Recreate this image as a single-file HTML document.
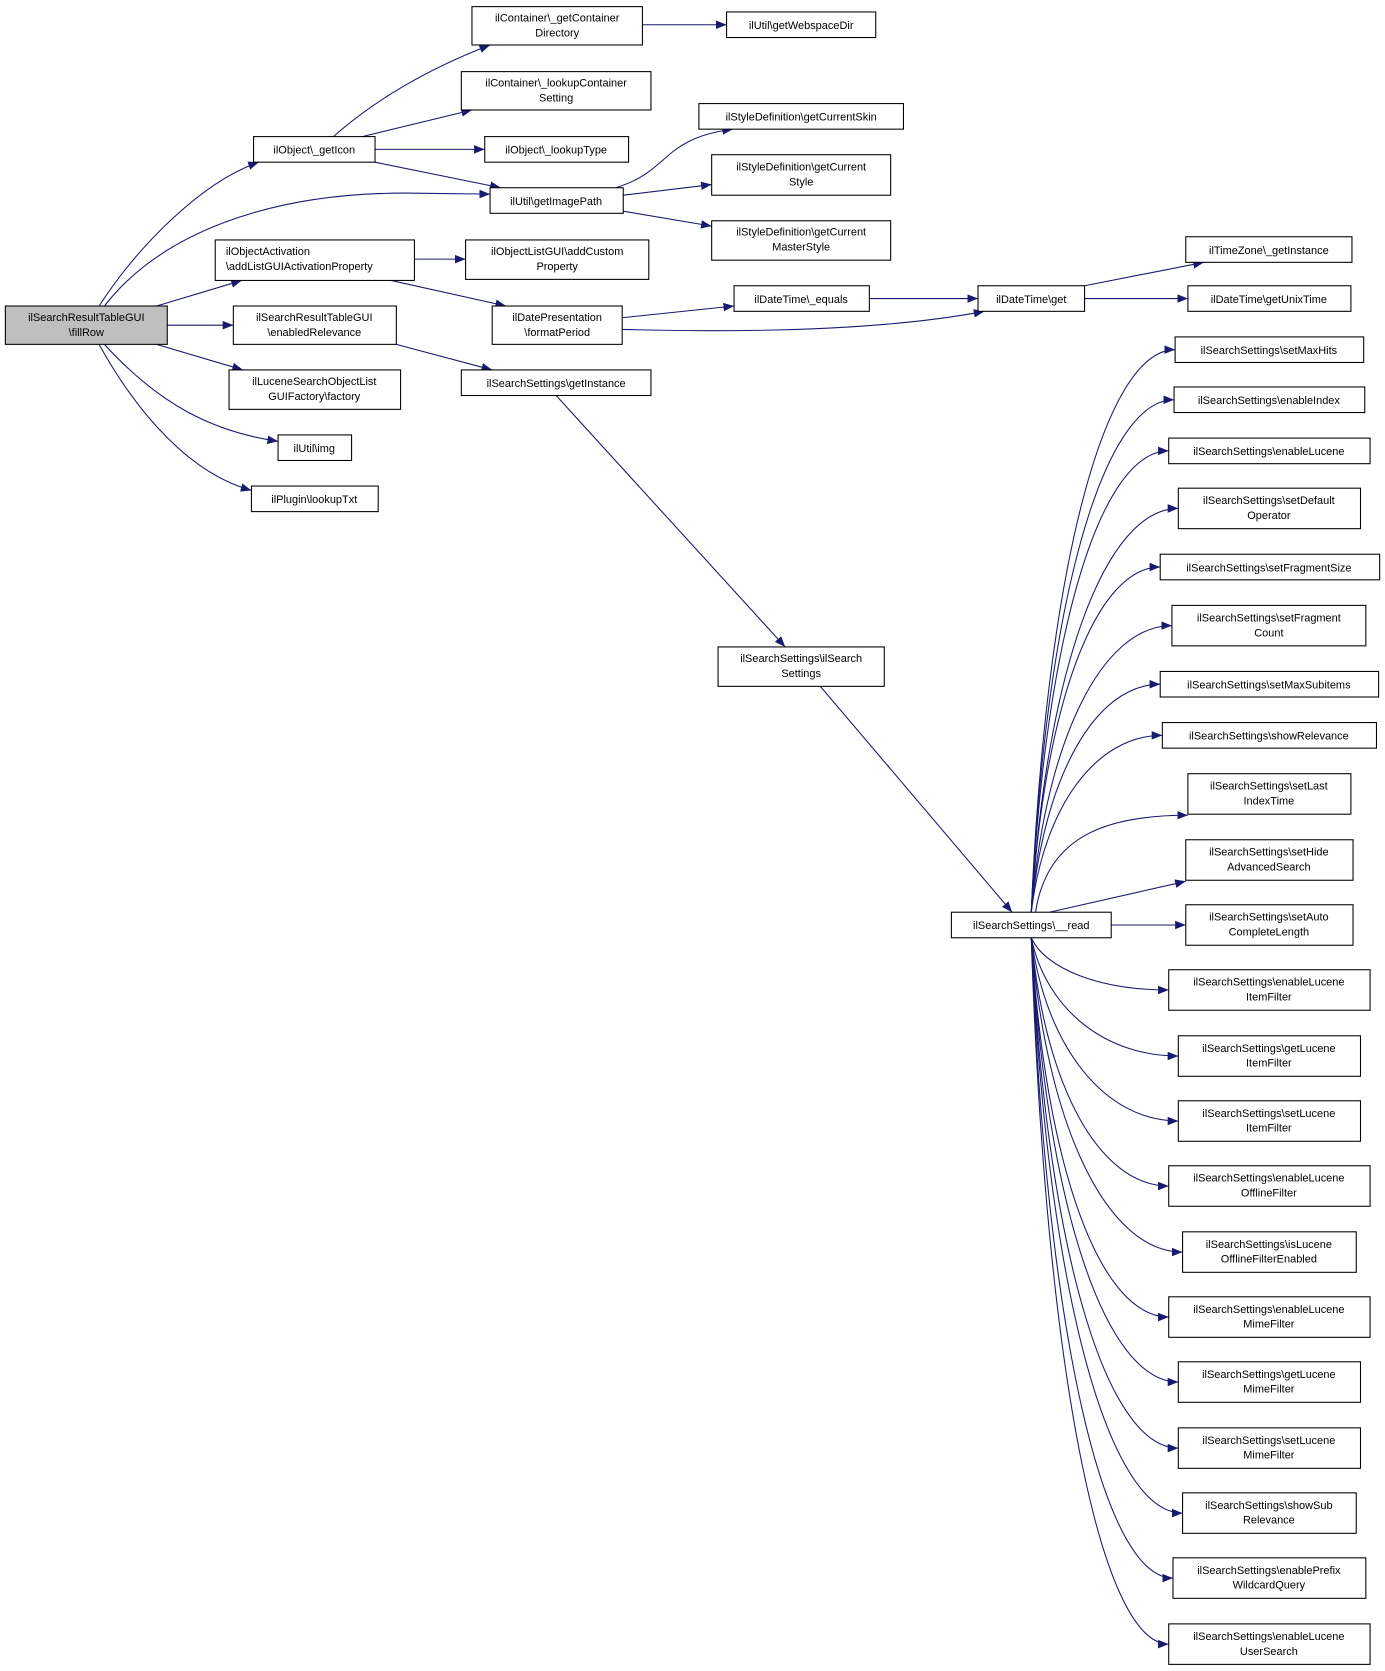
<!DOCTYPE html>
<html><head><meta charset="utf-8"><style>
html,body{margin:0;padding:0;background:#fff}
svg{display:block}
text{font-family:"Liberation Sans",Arial,sans-serif;font-size:10.3px;fill:#000}
.b{fill:#fff;stroke:#000;stroke-width:1}
.e{fill:none;stroke:#191970;stroke-width:1}
</style></head><body>
<svg width="1385" height="1671" viewBox="0 0 1300 1568" xmlns="http://www.w3.org/2000/svg">
<defs><marker id="a" markerUnits="userSpaceOnUse" markerWidth="11" markerHeight="9" refX="10" refY="4" orient="auto"><path d="M0,0 L10,4 L0,8 Z" fill="#191970"/></marker></defs>
<g class="e" marker-end="url(#a)">
<path d="M93 287 C130 230 190 170 243 152"/>
<path d="M98 287 C150 220 250 181 380 181 L460 182"/>
<path d="M147 287 L227 263"/>
<path d="M157 305 L219 305"/>
<path d="M147 323 L228 347"/>
<path d="M98 323 C150 380 200 405 261 414"/>
<path d="M93 323 C130 390 180 445 236 460"/>
<path d="M313 128 C350 95 400 65 460 42"/>
<path d="M340 128 L443 103"/>
<path d="M352 140 L455 140"/>
<path d="M352 152 L470 176"/>
<path d="M603 23 L682 23"/>
<path d="M578 176 C630 160 620 130 688 121"/>
<path d="M585 183 L668 173"/>
<path d="M585 198 L668 212"/>
<path d="M389 243 L437 243"/>
<path d="M367 263 L475 287"/>
<path d="M372 323 L462 347"/>
<path d="M584 298 L689 287"/>
<path d="M584 309 C700 312 830 310 924 292"/>
<path d="M816 280 L918 280"/>
<path d="M1018 268 L1130 246"/>
<path d="M1018 280 L1115 280"/>
<path d="M522 371 L737 607"/>
<path d="M770 644 L950 856"/>
<path d="M968 856 C981.5 539 1035.5 328 1103 328"/>
<path d="M968 856 C981 567 1035 375 1102 375"/>
<path d="M968 856 C981 596 1032 423 1097 423"/>
<path d="M968 856 C982 629 1037 477 1106 477"/>
<path d="M968 856 C980 662 1028 532 1089 532"/>
<path d="M968 856 C981 695 1034 587 1100 587"/>
<path d="M968 856 C980 728 1028 642 1089 642"/>
<path d="M968 856 C980 756 1029 690 1091 690"/>
<path d="M972 856 C983 783 1041 765 1115 765"/>
<path d="M985 856 L1113 827"/>
<path d="M1043 868 L1113 868"/>
<path d="M968 880 C981 909 1032 929 1097 929"/>
<path d="M968 880 C982 947 1037 991 1106 991"/>
<path d="M968 880 C982 983 1037 1052 1106 1052"/>
<path d="M968 880 C981 1020 1032 1113 1097 1113"/>
<path d="M968 880 C982 1057 1039 1175 1110 1175"/>
<path d="M968 880 C981 1094 1032 1236 1097 1236"/>
<path d="M968 880 C982 1130 1037 1297 1106 1297"/>
<path d="M968 880 C982 1167 1037 1359 1106 1359"/>
<path d="M968 880 C982 1204 1039 1420 1110 1420"/>
<path d="M968 880 C981 1241 1034 1481 1101 1481"/>
<path d="M968 880 C981 1278 1032 1543 1097 1543"/>
</g>
<g text-anchor="middle">
<rect x="5" y="287" width="152" height="36" fill="#bfbfbf" stroke="#000"/><text x="81" y="301">ilSearchResultTableGUI</text><text x="81" y="315">\fillRow</text>
<rect class="b" x="238" y="128" width="114" height="24"/><text x="295" y="144">ilObject\_getIcon</text>
<rect class="b" x="443" y="6" width="160" height="36"/><text x="523" y="20">ilContainer\_getContainer</text><text x="523" y="34">Directory</text>
<rect class="b" x="433" y="67" width="178" height="36"/><text x="522" y="81">ilContainer\_lookupContainer</text><text x="522" y="95">Setting</text>
<rect class="b" x="455" y="128" width="135" height="24"/><text x="522" y="144">ilObject\_lookupType</text>
<rect class="b" x="460" y="176" width="125" height="24"/><text x="522" y="192">ilUtil\getImagePath</text>
<rect class="b" x="682" y="11" width="140" height="24"/><text x="752" y="27">ilUtil\getWebspaceDir</text>
<rect class="b" x="656" y="97" width="192" height="24"/><text x="752" y="113">ilStyleDefinition\getCurrentSkin</text>
<rect class="b" x="668" y="145" width="168" height="38"/><text x="752" y="160">ilStyleDefinition\getCurrent</text><text x="752" y="174">Style</text>
<rect class="b" x="668" y="207" width="168" height="37"/><text x="752" y="221">ilStyleDefinition\getCurrent</text><text x="752" y="235">MasterStyle</text>
<rect class="b" x="202" y="225" width="187" height="38"/><text x="212" y="239" text-anchor="start">ilObjectActivation</text><text x="212" y="253" text-anchor="start">\addListGUIActivationProperty</text>
<rect class="b" x="437" y="225" width="172" height="37"/><text x="523" y="239">ilObjectListGUI\addCustom</text><text x="523" y="253">Property</text>
<rect class="b" x="462" y="287" width="122" height="36"/><text x="523" y="301">ilDatePresentation</text><text x="523" y="315">\formatPeriod</text>
<rect class="b" x="219" y="287" width="153" height="36"/><text x="295" y="301">ilSearchResultTableGUI</text><text x="295" y="315">\enabledRelevance</text>
<rect class="b" x="215" y="347" width="161" height="37"/><text x="295" y="361">ilLuceneSearchObjectList</text><text x="295" y="375">GUIFactory\factory</text>
<rect class="b" x="261" y="408" width="69" height="24"/><text x="295" y="424">ilUtil\img</text>
<rect class="b" x="236" y="456" width="119" height="24"/><text x="295" y="472">ilPlugin\lookupTxt</text>
<rect class="b" x="433" y="347" width="178" height="24"/><text x="522" y="363">ilSearchSettings\getInstance</text>
<rect class="b" x="689" y="268" width="127" height="24"/><text x="752" y="284">ilDateTime\_equals</text>
<rect class="b" x="918" y="268" width="100" height="24"/><text x="968" y="284">ilDateTime\get</text>
<rect class="b" x="1113" y="222" width="156" height="24"/><text x="1191" y="238">ilTimeZone\_getInstance</text>
<rect class="b" x="1115" y="268" width="153" height="24"/><text x="1191" y="284">ilDateTime\getUnixTime</text>
<rect class="b" x="674" y="607" width="156" height="37"/><text x="752" y="621">ilSearchSettings\ilSearch</text><text x="752" y="635">Settings</text>
<rect class="b" x="893" y="856" width="150" height="24"/><text x="968" y="872">ilSearchSettings\__read</text>
<rect class="b" x="1103" y="316" width="177" height="24"/><text x="1191" y="332">ilSearchSettings\setMaxHits</text>
<rect class="b" x="1102" y="363" width="179" height="24"/><text x="1191" y="379">ilSearchSettings\enableIndex</text>
<rect class="b" x="1097" y="411" width="189" height="24"/><text x="1191" y="427">ilSearchSettings\enableLucene</text>
<rect class="b" x="1106" y="458" width="171" height="38"/><text x="1191" y="473">ilSearchSettings\setDefault</text><text x="1191" y="487">Operator</text>
<rect class="b" x="1089" y="520" width="206" height="24"/><text x="1191" y="536">ilSearchSettings\setFragmentSize</text>
<rect class="b" x="1100" y="568" width="182" height="38"/><text x="1191" y="583">ilSearchSettings\setFragment</text><text x="1191" y="597">Count</text>
<rect class="b" x="1089" y="630" width="205" height="24"/><text x="1191" y="646">ilSearchSettings\setMaxSubitems</text>
<rect class="b" x="1091" y="678" width="201" height="24"/><text x="1191" y="694">ilSearchSettings\showRelevance</text>
<rect class="b" x="1115" y="726" width="153" height="38"/><text x="1191" y="741">ilSearchSettings\setLast</text><text x="1191" y="755">IndexTime</text>
<rect class="b" x="1113" y="788" width="157" height="38"/><text x="1191" y="803">ilSearchSettings\setHide</text><text x="1191" y="817">AdvancedSearch</text>
<rect class="b" x="1113" y="849" width="157" height="38"/><text x="1191" y="864">ilSearchSettings\setAuto</text><text x="1191" y="878">CompleteLength</text>
<rect class="b" x="1097" y="910" width="189" height="38"/><text x="1191" y="925">ilSearchSettings\enableLucene</text><text x="1191" y="939">ItemFilter</text>
<rect class="b" x="1106" y="972" width="171" height="38"/><text x="1191" y="987">ilSearchSettings\getLucene</text><text x="1191" y="1001">ItemFilter</text>
<rect class="b" x="1106" y="1033" width="171" height="38"/><text x="1191" y="1048">ilSearchSettings\setLucene</text><text x="1191" y="1062">ItemFilter</text>
<rect class="b" x="1097" y="1094" width="189" height="38"/><text x="1191" y="1109">ilSearchSettings\enableLucene</text><text x="1191" y="1123">OfflineFilter</text>
<rect class="b" x="1110" y="1156" width="163" height="38"/><text x="1191" y="1171">ilSearchSettings\isLucene</text><text x="1191" y="1185">OfflineFilterEnabled</text>
<rect class="b" x="1097" y="1217" width="189" height="38"/><text x="1191" y="1232">ilSearchSettings\enableLucene</text><text x="1191" y="1246">MimeFilter</text>
<rect class="b" x="1106" y="1278" width="171" height="38"/><text x="1191" y="1293">ilSearchSettings\getLucene</text><text x="1191" y="1307">MimeFilter</text>
<rect class="b" x="1106" y="1340" width="171" height="38"/><text x="1191" y="1355">ilSearchSettings\setLucene</text><text x="1191" y="1369">MimeFilter</text>
<rect class="b" x="1110" y="1401" width="163" height="38"/><text x="1191" y="1416">ilSearchSettings\showSub</text><text x="1191" y="1430">Relevance</text>
<rect class="b" x="1101" y="1462" width="181" height="38"/><text x="1191" y="1477">ilSearchSettings\enablePrefix</text><text x="1191" y="1491">WildcardQuery</text>
<rect class="b" x="1097" y="1524" width="189" height="38"/><text x="1191" y="1539">ilSearchSettings\enableLucene</text><text x="1191" y="1553">UserSearch</text>
</g>
</svg>
</body></html>
